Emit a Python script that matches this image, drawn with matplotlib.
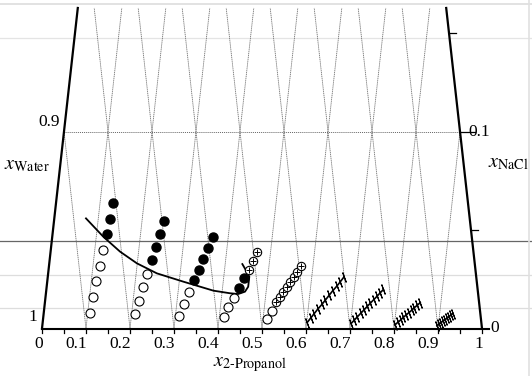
import numpy as np
import matplotlib.pyplot as plt

plt.rcParams['font.family'] = ['Liberation Serif', 'DejaVu Serif']
plt.rcParams['mathtext.fontset'] = 'stix'

# data as (x_2-propanol, x_NaCl) pairs
open1_p = [0.105, 0.107, 0.111, 0.116, 0.119]
open1_n = [0.0080, 0.0160, 0.0241, 0.0317, 0.0396]
fill1_p = [0.123, 0.126, 0.130]
fill1_n = [0.0480, 0.0558, 0.0636]

open2_p = [0.208, 0.213, 0.219, 0.225]
open2_n = [0.0073, 0.0142, 0.0212, 0.0279]
fill2_p = [0.232, 0.239, 0.245, 0.251]
fill2_n = [0.0347, 0.0412, 0.0482, 0.0547]

open3_p = [0.309, 0.317, 0.324]
open3_n = [0.0065, 0.0123, 0.0183]
fill3_p = [0.333, 0.342, 0.349, 0.358, 0.365]
fill3_n = [0.0244, 0.0298, 0.0353, 0.0408, 0.0464]

open4_p = [0.410, 0.418, 0.428]
open4_n = [0.0057, 0.0107, 0.0155]
fill4_p = [0.437, 0.446]
fill4_n = [0.0207, 0.0254]
cross4_p = [0.455, 0.462, 0.470]
cross4_n = [0.0299, 0.0342, 0.0387]

open5_p = [0.510, 0.519]
open5_n = [0.0048, 0.0091]
cross5_p = [0.526, 0.533, 0.539, 0.546, 0.552, 0.559, 0.565, 0.572]
cross5_n = [0.0132, 0.0158, 0.0184, 0.0211, 0.0237, 0.0263, 0.0289, 0.0316]

tick6_p = [0.601, 0.608, 0.615, 0.622, 0.630, 0.637, 0.644, 0.651, 0.659, 0.666, 0.673]
tick6_n = [0.0030, 0.0053, 0.0076, 0.0099, 0.0122, 0.0145, 0.0168, 0.0191, 0.0214, 0.0237, 0.0261]
tick7_p = [0.701, 0.7075, 0.714, 0.7205, 0.727, 0.7335, 0.740, 0.7465, 0.753, 0.7595, 0.766]
tick7_n = [0.0025, 0.0042, 0.0060, 0.0077, 0.0094, 0.0112, 0.0129, 0.0146, 0.0163, 0.0181, 0.0198]
tick8_p = [0.801, 0.807, 0.813, 0.818, 0.824, 0.830, 0.836, 0.841, 0.847, 0.853]
tick8_n = [0.0018, 0.0031, 0.0043, 0.0056, 0.0068, 0.0081, 0.0093, 0.0106, 0.0118, 0.0131]
tick9_p = [0.897, 0.901, 0.905, 0.909, 0.914, 0.918, 0.922, 0.926, 0.930]
tick9_n = [0.0013, 0.0021, 0.0029, 0.0037, 0.0045, 0.0052, 0.0060, 0.0068, 0.0076]

# binodal-like curve
curve_p = [0.072, 0.116, 0.158, 0.199, 0.247, 0.309, 0.380, 0.418, 0.437, 0.452, 0.458, 0.458, 0.451, 0.439]
curve_n = [0.0559, 0.0466, 0.0390, 0.0331, 0.0280, 0.0238, 0.0192, 0.0179, 0.0175, 0.0187, 0.0212, 0.0263, 0.0288, 0.0327]

bottom_ticks = [0, 0.1, 0.2, 0.3, 0.4, 0.5, 0.6, 0.7, 0.8, 0.9, 1]
n_top = 0.1627


def tern(p, n):
    p = np.asarray(p, dtype=float)
    n = np.asarray(n, dtype=float)
    return p + n / 2, n


fig = plt.figure(figsize=(5.32, 3.76), dpi=100)
ax = fig.add_axes([0, 0, 1, 1])
ax.set_xlim(-42 / 440, -42 / 440 + 532 / 440)
ax.set_ylim(-47.5 / 1970, -47.5 / 1970 + 376 / 1970)
ax.axis('off')

# scan streaks of the original
for yy, c, lw in [(0.0444, '#666666', 0.9), (0.0272, '#dddddd', 0.9), (0.0104, '#dddddd', 0.9),
                  (0.1475, '#e4e4e4', 0.9), (0.1647, '#dddddd', 1.2)]:
    ax.axhline(yy, color=c, lw=lw, zorder=0)
ax.axvline(1.107, color='#e0e0e0', lw=1.2, zorder=0)

# grid lines
grid_style = dict(color='0.45', lw=0.6, ls=(0, (1.5, 0.8)), zorder=1)
for c in np.arange(1, 10) / 10:
    n_end = min(n_top, 1 - c)
    X, Y = tern([c, c], [0, n_end])
    ax.plot(X, Y, **grid_style)
    n_end = min(n_top, c)
    X, Y = tern([c, c - n_end], [0, n_end])
    ax.plot(X, Y, **grid_style)
X, Y = tern([0, 0.9], [0.1, 0.1])
ax.plot(X, Y, color='0.4', lw=0.7, ls=(0, (1, 1)), zorder=1)

# frame
X, Y = tern([0, 0], [0, n_top])
ax.plot(X, Y, color='black', lw=1.6, zorder=3)
X, Y = tern([1, 1 - n_top], [0, n_top])
ax.plot(X, Y, color='black', lw=1.6, zorder=3)
ax.plot([0, 1.016], [0, 0], color='black', lw=1.5, zorder=3)
for t in np.arange(0, 21) * 0.05:
    ax.plot([t, t], [0, -0.0022], color='black', lw=0.9, zorder=3)
for n in [0.05, 0.1, 0.15]:
    x0 = 1 - n / 2
    ax.plot([x0, x0 + (0.035 if n == 0.1 else 0.015)], [n, n], color='black', lw=0.9, zorder=3)

# labels
for t in bottom_ticks:
    ax.text(t + 0.003, -0.0078, f'{t:g}', ha='right', va='center', fontsize=12.5)
ax.text(-0.011, 0.0058, '1', ha='right', va='center', fontsize=12.5)
ax.text(0.041, 0.1050, '0.9', ha='right', va='center', fontsize=12.5)
ax.text(0.968, 0.1, '0.1', ha='left', va='center', fontsize=12.5)
ax.text(1.018, 0.0, '0', ha='left', va='center', fontsize=12.5)
ax.text(-0.086, 0.083, r'$x_{\mathrm{Water}}$', ha='left', va='center', fontsize=14.5)
ax.text(1.014, 0.084, r'$x_{\mathrm{NaCl}}$', ha='left', va='center', fontsize=14.5)
ax.text(0.389, -0.0185, r'$x_{\mathrm{2\text{-}Propanol}}$', ha='left', va='center', fontsize=14.5)

# curve
X, Y = tern(curve_p, curve_n)
ax.plot(X, Y, color='black', lw=1.3, zorder=4)

# open circles
for p, n in [(open1_p, open1_n), (open2_p, open2_n), (open3_p, open3_n), (open4_p, open4_n), (open5_p, open5_n)]:
    X, Y = tern(p, n)
    ax.plot(X, Y, 'o', ms=6.5, mfc='white', mec='black', mew=0.8, zorder=5)

# filled circles
for p, n in [(fill1_p, fill1_n), (fill2_p, fill2_n), (fill3_p, fill3_n), (fill4_p, fill4_n)]:
    X, Y = tern(p, n)
    ax.plot(X, Y, 'o', ms=6.5, mfc='black', mec='black', zorder=5)

# crossed circles
for p, n in [(cross4_p, cross4_n), (cross5_p, cross5_n)]:
    X, Y = tern(p, n)
    ax.plot(X, Y, 'o', ms=6.0, mfc='white', mec='black', mew=0.8, zorder=5)
    ax.plot(X, Y, '+', ms=5.0, color='black', mew=0.7, zorder=6)

# tie-line-like series with ticks
for p, n in [(tick6_p, tick6_n), (tick7_p, tick7_n), (tick8_p, tick8_n), (tick9_p, tick9_n)]:
    X, Y = tern(p, n)
    ax.plot(X, Y, color='black', lw=1.2, marker=(2, 2, 20), ms=7.5, mew=0.8, zorder=5)

plt.savefig('out.png', dpi=100)
